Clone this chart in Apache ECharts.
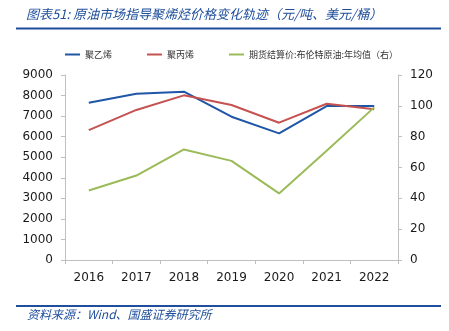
<!DOCTYPE html>
<html><head><meta charset="utf-8">
<script src="https://cdn.jsdelivr.net/npm/echarts@6/dist/echarts.min.js"></script>
<style>html,body{margin:0;padding:0;background:#fff}#c{width:449px;height:331px}</style>
</head><body><div id="c"></div>
<script>
var years = ['2016','2017','2018','2019','2020','2021','2022'];
var polyethylene = [7650, 8090, 8190, 6970, 6160, 7490, 7490];
var polypropylene = [6320, 7300, 8010, 7540, 6680, 7600, 7330];
var brent = [45.1, 54.8, 71.7, 64.3, 43.2, 70.9, 99.0];
var seriesNames = ['聚乙烯', '聚丙烯', '期货结算价:布伦特原油:年均值（右）'];
var titleText = '图表51: 原油市场指导聚烯烃价格变化轨迹（元/吨、美元/桶）';
var sourceText = '资料来源：Wind、国盛证券研究所';

var chart = echarts.init(document.getElementById('c'));
var axisCol = '#bfbfbf';
var labelStyle = {color: '#1a1a1a', fontSize: 12, fontFamily: 'DejaVu Sans, sans-serif'};
chart.setOption({
  animation: false,
  color: ['#1f56a6', '#c55150', '#9bbb59'],
  grid: {left: 65, right: 51, top: 75, bottom: 71},
  legend: {
    top: 50, left: 65, padding: 0, itemWidth: 15, itemHeight: 2, itemGap: 35,
    icon: 'rect',
    textStyle: {fontSize: 9, color: '#333', fontFamily: 'Noto Sans CJK SC'},
    data: seriesNames
  },
  xAxis: {
    type: 'category', data: years,
    axisLine: {lineStyle: {color: axisCol}},
    axisTick: {show: true, length: 4, lineStyle: {color: axisCol}},
    axisLabel: Object.assign({margin: 12}, labelStyle)
  },
  yAxis: [{
    type: 'value', min: 0, max: 9000, interval: 1000,
    axisLine: {show: true, lineStyle: {color: axisCol}},
    axisTick: {show: true, length: 4, lineStyle: {color: axisCol}},
    splitLine: {show: false},
    axisLabel: Object.assign({margin: 12, formatter: function (v) { return String(v); }}, labelStyle)
  }, {
    type: 'value', min: 0, max: 120, interval: 20, position: 'right',
    axisLine: {show: true, lineStyle: {color: axisCol}},
    axisTick: {show: true, length: 4, lineStyle: {color: axisCol}},
    splitLine: {show: false},
    axisLabel: Object.assign({margin: 12}, labelStyle)
  }],
  series: [
    {name: seriesNames[0], type: 'line', data: polyethylene, showSymbol: false, symbol: 'none', lineStyle: {width: 2}},
    {name: seriesNames[1], type: 'line', data: polypropylene, showSymbol: false, symbol: 'none', lineStyle: {width: 2}},
    {name: seriesNames[2], type: 'line', yAxisIndex: 1, data: brent, showSymbol: false, symbol: 'none', lineStyle: {width: 2}}
  ],
  graphic: [
    {type: 'text', left: 26, top: 8, style: {text: titleText, fill: '#1f4e9c', font: 'italic 13px "Noto Sans CJK SC"'}},
    {type: 'rect', shape: {x: 16, y: 27.5, width: 425, height: 2}, style: {fill: '#1f4e9c'}},
    {type: 'rect', shape: {x: 16, y: 305, width: 425, height: 2}, style: {fill: '#1f4e9c'}},
    {type: 'text', left: 27, top: 308, style: {text: sourceText, fill: '#1f4e9c', font: 'italic 12px "Noto Sans CJK SC"'}}
  ]
});
</script></body></html>
